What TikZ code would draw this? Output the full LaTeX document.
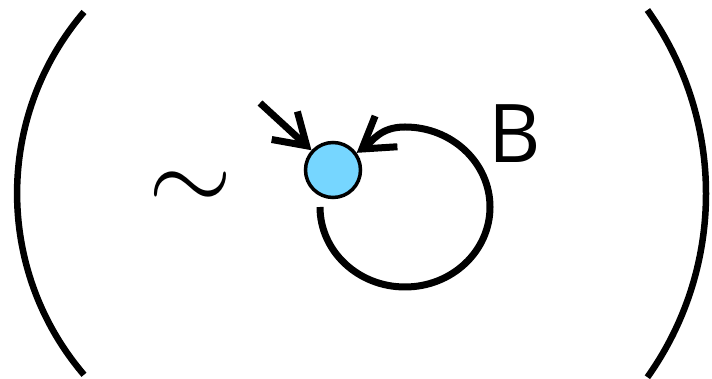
\documentclass[tikz,border=0pt]{standalone}
\usepackage{fontspec}
\usepackage{graphicx}
\setmainfont{Open Sans}
\usetikzlibrary{arrows.meta}
\definecolor{vtx-blue}{HTML}{76D6FF}

\begin{document}
\begin{tikzpicture}[
    x=1pt, y=1pt,
    vtx/.style={circle, draw, fill=vtx-blue, line width=3.5pt,
                minimum size=55pt, inner sep=0pt},
    arr/.style={-{Straight Barb[length=30pt, width=38pt]}, line width=7pt},
    paren/.style={line width=6.5pt},
    lbl/.style={font=\fontsize{81}{81}\selectfont, inner sep=0pt},
]
    \useasboundingbox (0,0) rectangle (712,379);

    % Vertex and labels
    \node[vtx] (v) at (333,209) {};
    \node[lbl] (b) at (515,245) {B};
    \node[inner sep=0pt] (sim) at (190,187) {\scalebox{10.8}{$\sim$}};

    % Free ends
    \coordinate (in) at (260,276);
    \coordinate (lstart) at (320,172);

    % Arrows
    \draw[arr] (in) -- (v);
    \draw[arr] (lstart) arc[start angle=180, end angle=450, x radius=85, y radius=80]
        .. controls +(-25,0) and +(40,29) .. (v);

    % Parentheses
    \draw[paren] (84,367) arc[start angle=139.5, end angle=220.5, radius=279.3];
    \draw[paren] (647.4,369) arc[start angle=35.4, end angle=-35.4, radius=317];
\end{tikzpicture}
\end{document}
